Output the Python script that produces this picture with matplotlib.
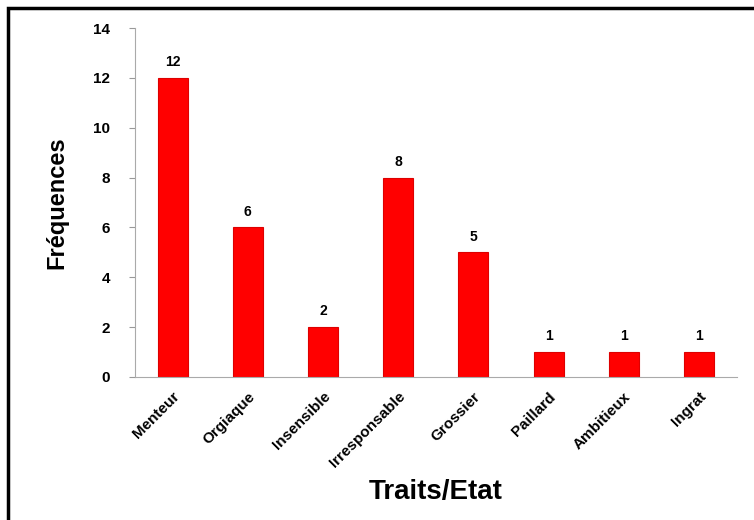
import matplotlib
matplotlib.use("Agg")
import matplotlib.pyplot as plt
from matplotlib.patches import Rectangle

categories = ["Menteur", "Orgiaque", "Insensible", "Irresponsable", "Grossier", "Paillard", "Ambitieux", "Ingrat"]
values = [12, 6, 2, 8, 5, 1, 1, 1]
yticks = [0, 2, 4, 6, 8, 10, 12, 14]

plt.rcParams['font.family'] = ['Liberation Sans', 'DejaVu Sans']

fig = plt.figure(figsize=(7.54, 5.2), dpi=100)
ax = fig.add_axes([0.179, 0.275, 0.798, 0.671])

x = list(range(len(categories)))
ax.bar(x, values, width=0.4, color='#ff0000', edgecolor='#dd0000', linewidth=0.8)
for xi, v in zip(x, values):
    ax.text(xi, v + 0.35, str(v), ha='center', va='bottom', fontsize=10, fontweight='bold')

ax.set_xlim(-0.5, len(categories) - 0.5)
ax.set_ylim(0, 14)
ax.set_yticks(yticks)
ax.set_yticklabels([str(t) for t in yticks], fontsize=11, fontweight='bold')
ax.set_xticks(x)
ax.set_xticklabels(categories, rotation=45, ha='right', rotation_mode='anchor', fontsize=11, fontweight='bold')
ax.tick_params(axis='x', length=0, pad=9)
ax.tick_params(axis='y', length=4, color='#999999', pad=14)
for s in ['top', 'right']:
    ax.spines[s].set_visible(False)
ax.spines['left'].set_color('#aaaaaa')
ax.spines['bottom'].set_color('#aaaaaa')

ax.set_ylabel("Fréquences", fontsize=17, fontweight='bold', labelpad=18)
fig.text(436/754, 1 - 492/520, "Traits/Etat", ha='center', va='center', fontsize=20, fontweight='bold')

fig.patches.append(Rectangle((8/754, -0.1), 1.2, 1 - 8/520 + 0.1, transform=fig.transFigure,
                             fill=False, edgecolor='black', linewidth=2.5))

fig.savefig("out.png", dpi=100)
